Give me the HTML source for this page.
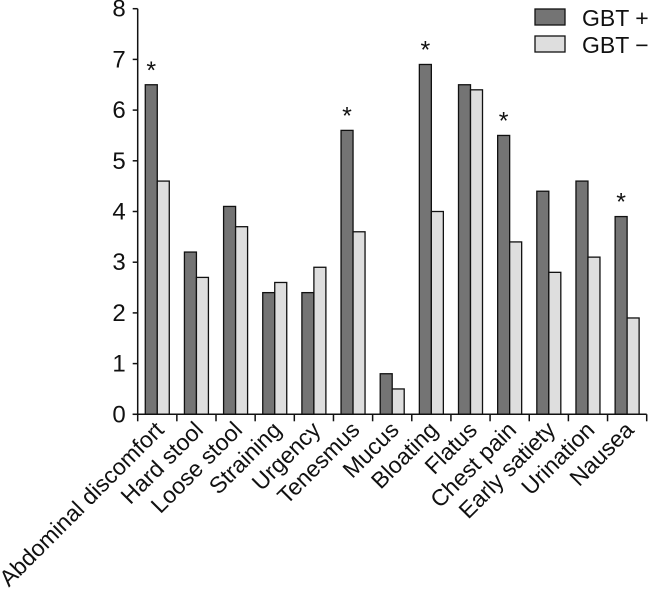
<!DOCTYPE html>
<html><head><meta charset="utf-8"><style>
html,body{margin:0;padding:0;background:#fff;}
svg{display:block;font-family:"Liberation Sans",Arial,sans-serif;}
</style></head><body>
<svg id="chart" width="648" height="599" viewBox="0 0 648 599"></svg>
<script>
const categories = ["Abdominal discomfort","Hard stool","Loose stool","Straining","Urgency","Tenesmus","Mucus","Bloating","Flatus","Chest pain","Early satiety","Urination","Nausea"];
const gbtPos = [6.5,3.2,4.1,2.4,2.4,5.6,0.8,6.9,6.5,5.5,4.4,4.6,3.9];
const gbtNeg = [4.6,2.7,3.7,2.6,2.9,3.6,0.5,4.0,6.4,3.4,2.8,3.1,1.9];
const significant = [true,false,false,false,false,true,false,true,false,true,false,false,true];
const yTicks = [0,1,2,3,4,5,6,7,8];

const NS="http://www.w3.org/2000/svg";
const svg=document.getElementById('chart');
const x0=137.7, x1=646.7, y0=414.3, yTop=8.7, yMax=8;
const band=(x1-x0)/categories.length;
const y=v=>y0-(v/yMax)*(y0-yTop);
const xc=i=>x0+band*(i+0.5);
const bw=12;
function el(t,a){const e=document.createElementNS(NS,t);for(const k in a)e.setAttribute(k,a[k]);svg.appendChild(e);return e;}

categories.forEach((c,i)=>{
  const b1=el('rect',{x:xc(i)-bw,y:y(gbtPos[i]),width:bw,height:y0-y(gbtPos[i]),fill:'#747474',stroke:'#111','stroke-width':1.3});
  
  
  const b2=el('rect',{x:xc(i),y:y(gbtNeg[i]),width:bw,height:y0-y(gbtNeg[i]),fill:'#dedede',stroke:'#111','stroke-width':1.3});
  
  
  if(significant[i]){
    const s=el('text',{x:xc(i)-bw/2,y:y(Math.max(gbtPos[i],gbtNeg[i]))-6,'text-anchor':'middle','font-size':25,fill:'#111'});
    s.textContent='*';
    
    
  }
  const t=el('text',{transform:`translate(${xc(i)+8},${y0+17}) rotate(-45)`,'text-anchor':'end','font-size':23,fill:'#111'});
  t.textContent=c;
  
  
});
const ax=el('line',{x1:x0,y1:yTop,x2:x0,y2:y0,stroke:'#111','stroke-width':1.5});


const bx=el('line',{x1:x0-5,y1:y0,x2:x1,y2:y0,stroke:'#111','stroke-width':1.5});


for(let i=0;i<=categories.length;i++){
  const tk=el('line',{x1:x0+band*i,y1:y0,x2:x0+band*i,y2:y0+7,stroke:'#111','stroke-width':1.5});
  
  
}
yTicks.forEach(v=>{
  const tk=el('line',{x1:x0-5,y1:y(v),x2:x0,y2:y(v),stroke:'#111','stroke-width':1.5});
  
  
  const t=el('text',{x:x0-12,y:y(v)+8,'text-anchor':'end','font-size':24,fill:'#111'});
  t.textContent=v;
  
  
});
const l1=el('rect',{x:535,y:9,width:30,height:16,fill:'#747474',stroke:'#111','stroke-width':1.3});


const lt1=el('text',{x:582,y:26,'font-size':23,fill:'#111'});
lt1.textContent='GBT +';


const l2=el('rect',{x:535,y:36,width:30,height:16,fill:'#dedede',stroke:'#111','stroke-width':1.3});


const lt2=el('text',{x:582,y:53,'font-size':23,fill:'#111'});
lt2.textContent='GBT −';


</script>
</body></html>
